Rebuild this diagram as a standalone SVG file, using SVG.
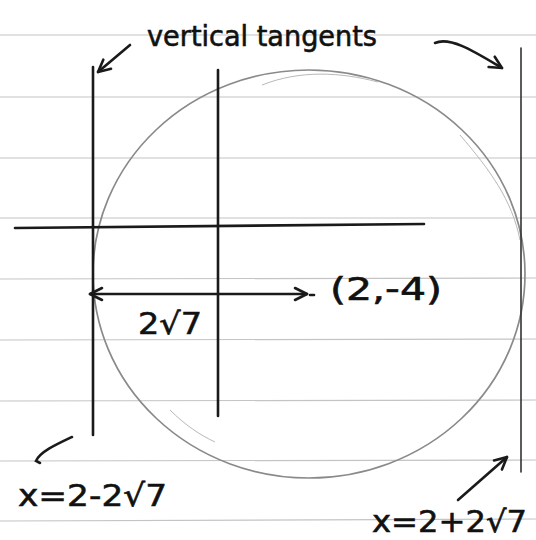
<svg xmlns="http://www.w3.org/2000/svg" width="536" height="540" viewBox="0 0 536 540">
<defs>
<style>
.paper{stroke:#c4c4c4;stroke-width:1.2;fill:none}
.ink{stroke:#1a1a1a;stroke-width:2.6;fill:none;stroke-linecap:round}
.thin{stroke:#333;stroke-width:1.6;fill:none;stroke-linecap:round}
.pencil{stroke:#8a8a8a;stroke-width:1.7;fill:none}
.faint{stroke:#b8b8b8;stroke-width:1;fill:none}
.hand{font-family:"DejaVu Sans","Liberation Sans",sans-serif;fill:#111;stroke:#111;stroke-width:0.6}
</style>
<marker id="open" viewBox="0 0 16 16" refX="14" refY="8" markerWidth="16" markerHeight="16" markerUnits="userSpaceOnUse" orient="auto-start-reverse">
<polyline points="2,2 14,8 2,14" fill="none" stroke="#1a1a1a" stroke-width="2.6" stroke-linecap="round" stroke-linejoin="round"/>
</marker>
</defs>
<rect width="536" height="540" fill="#ffffff"/>
<g id="paper">
<line class="paper" x1="0" y1="35" x2="536" y2="35"/>
<line class="paper" x1="0" y1="97" x2="536" y2="97"/>
<line class="paper" x1="0" y1="158" x2="536" y2="158"/>
<line class="paper" x1="0" y1="218" x2="536" y2="218"/>
<line class="paper" x1="0" y1="279" x2="536" y2="278"/>
<line class="paper" x1="0" y1="340" x2="536" y2="339"/>
<line class="paper" x1="0" y1="401" x2="536" y2="400"/>
<line class="paper" x1="0" y1="461" x2="536" y2="460"/>
<line class="paper" x1="0" y1="521" x2="536" y2="519"/>
</g>
<g id="circle">
<ellipse class="pencil" cx="309" cy="274" rx="216" ry="204"/>
<path class="faint" d="M262 85 C300 70 340 72 378 82"/>
<path class="faint" d="M460 135 C490 170 512 200 520 240"/>
<path class="faint" d="M170 410 C185 425 200 435 215 442"/>
</g>
<g id="axes">
<line class="ink" x1="15" y1="228" x2="424" y2="224"/>
<line class="ink" x1="218" y1="70" x2="218" y2="416"/>
</g>
<g id="tangent-left">
<line class="ink" x1="93" y1="67" x2="93" y2="435"/>
</g>
<g id="tangent-right">
<line class="thin" x1="521" y1="48" x2="521" y2="472"/>
</g>
<g id="label-title">
<text class="hand" x="147" y="46" font-size="28" textLength="230" lengthAdjust="spacingAndGlyphs">vertical tangents</text>
</g>
<g id="label-centre">
<text class="hand" x="330" y="300" font-size="32" textLength="112" lengthAdjust="spacingAndGlyphs">(2,-4)</text>
</g>
<g id="label-radius">
<text class="hand" x="138" y="334" font-size="30" textLength="64" lengthAdjust="spacingAndGlyphs">2√7</text>
</g>
<g id="label-left">
<text class="hand" x="18" y="506" font-size="31" textLength="149" lengthAdjust="spacingAndGlyphs">x=2-2√7</text>
</g>
<g id="label-right">
<text class="hand" x="372" y="532" font-size="30" textLength="155" lengthAdjust="spacingAndGlyphs">x=2+2√7</text>
</g>
<g id="connectors">
<line class="ink" x1="130" y1="45" x2="98" y2="72" marker-end="url(#open)"/>
<path class="ink" d="M435 43 C450 36 475 52 502 68" marker-end="url(#open)"/>
<line class="ink" x1="90" y1="294" x2="307" y2="294" marker-start="url(#open)" marker-end="url(#open)"/>
<line class="ink" x1="310" y1="295" x2="314" y2="295"/>
<path class="ink" d="M72 437 C55 445 40 452 36 461 L40 463"/>
<line class="ink" x1="458" y1="500" x2="507" y2="457" marker-end="url(#open)"/>
</g>
</svg>
